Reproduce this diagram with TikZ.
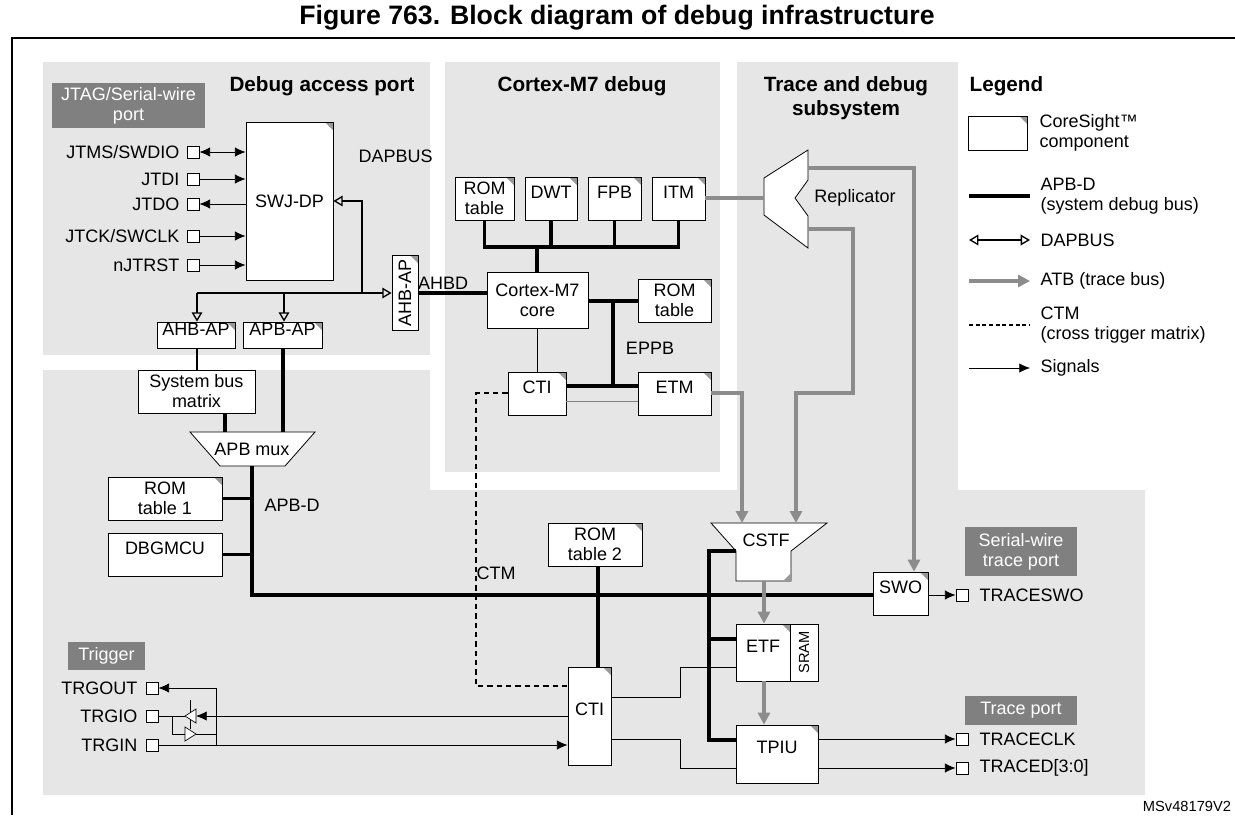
\documentclass[tikz,border=0pt]{standalone}
\usepackage{fontspec}
\setmainfont{Liberation Sans}
\usetikzlibrary{arrows.meta,fit}
\definecolor{bg}{HTML}{E6E6E6}
\definecolor{labgray}{HTML}{808080}
\definecolor{atbgray}{HTML}{8C8C8C}
\definecolor{cgray}{HTML}{999999}
\begin{document}
\begin{tikzpicture}[x=0.75pt,y=-0.75pt,font=\fontsize{13.5}{15}\selectfont,
 comp/.style={draw,fill=white,inner sep=0,align=center,line width=0.6pt,
   path picture={\fill[cgray] (path picture bounding box.north east) -- ++(-6pt,0) -- ++(6pt,-6pt) -- cycle;}},
 plainbox/.style={draw,fill=white,inner sep=0,align=center,line width=0.6pt},
 lab/.style={fill=labgray,text=white,inner sep=0,align=center},
 pinsq/.style={draw,fill=white,minimum size=9pt,inner sep=0,line width=0.6pt},
 bus/.style={line width=2.4pt},
 atb/.style={draw=atbgray,line width=2.4pt,-{Triangle[length=9pt,width=9pt]}},
 sig/.style={line width=0.6pt,-{Latex[length=8pt,width=7pt]}},
 dap/.style={line width=1pt,-{Triangle[open,length=7pt,width=8pt]}},
 ctm/.style={line width=2pt,dash pattern=on 4pt off 3pt},
 ttl/.style={font=\fontsize{15.5}{18}\selectfont\bfseries,align=center}]
\useasboundingbox (0,0) rectangle (1235,815);
\node[font=\fontsize{20}{22}\selectfont\bfseries] (title) at (617,18) {Figure 763. Block diagram of debug infrastructure};
\draw[line width=0.8pt] (12,815) -- (12,38) -- (1235,38);
% backgrounds
\fill[bg] (43,62) rectangle (430,355);
\fill[bg] (445,62) rectangle (720,472);
\fill[bg] (737,62) rectangle (958,490);
\fill[bg] (43,370) -- (430,370) -- (430,490) -- (1145,490) -- (1145,795) -- (43,795) -- cycle;
% titles
\node[ttl] (t1) at (322,86) {Debug access port};
\node[ttl] (t2) at (582,86) {Cortex-M7 debug};
\node[ttl] (t3) at (846,98) {Trace and debug\\subsystem};
\node[ttl,anchor=west] (t4) at (965,86) {Legend};
% gray labels
\node[lab,fit={(52,83)(205,128)}] (jtag) {};
\node[text=white,align=center] at (jtag) {JTAG/Serial-wire\\port};
\node[lab,fit={(68,642)(145,670)}] (trg) {};
\node[text=white] at (trg) {Trigger};
\node[lab,fit={(965,527)(1077,576)}] (swtp) {};
\node[text=white,align=center] at (swtp) {Serial-wire\\trace port};
\node[lab,fit={(965,696)(1077,725)}] (tp) {};
\node[text=white] at (tp) {Trace port};
% SWJ-DP and pins
\node[comp,fit={(246,122)(333,280)}] (swj) {};
\node at (swj) {SWJ-DP};
\foreach \n/\y/\t in {p1/152/{JTMS/SWDIO},p2/179/JTDI,p3/204/JTDO,p4/236/{JTCK/SWCLK},p5/265/nJTRST}{
  \node[pinsq] (\n) at (193,\y) {};
  \node[anchor=east] (\n l) at (184,\y) {\t};
}
\draw[line width=0.6pt,{Latex[length=8pt,width=7pt]}-{Latex[length=8pt,width=7pt]}] (p1.east) -- (p1.east -| swj.west);
\draw[sig] (p2.east) -- (p2.east -| swj.west);
\draw[sig] (p3.east -| swj.west) -- (p3.east);
\draw[sig] (p4.east) -- (p4.east -| swj.west);
\draw[sig] (p5.east) -- (p5.east -| swj.west);
% DAP
\node[comp,fit={(392,255)(418,330)}] (ahbv) {};
\node[rotate=90] at (ahbv) {AHB-AP};
\node[comp,fit={(157,322)(235,348)}] (ahb) {AHB-AP};
\node[comp,fit={(243,322)(322,348)}] (apb) {APB-AP};
\coordinate (dj) at (362,293);
\draw[dap] (dj) -- (362,201) -- (swj.east |- 0,201);
\draw[line width=1pt] (197,293) -- (dj);
\draw[dap] (dj) -- (ahbv.west |- dj);
\draw[dap] (197,293) -- (ahb.north -| 197,0);
\draw[dap] (284,293) -- (apb.north -| 284,0);
\node[anchor=west] (dapl) at (354,156) {DAPBUS};
% system bus
\node[plainbox,fit={(138,370)(255,413)}] (sbm) {};
\node[align=center] at (sbm) {System bus\\matrix};
\draw[line width=1.6pt] (ahb.south -| 197,0) -- (sbm.north -| 197,0);
\fill[white] (190,432) -- (315,432) -- (285,466) -- (220,466) -- cycle;
\draw[line width=0.6pt] (190,432) -- (315,432) -- (285,466) -- (220,466) -- cycle;
\node (mux) at (252,449) {APB mux};
\draw[bus] (sbm.south -| 225,0) -- (225,432);
\draw[bus] (apb.south -| 283,0) -- (283,432);
\node[comp,fit={(108,477)(222,520)}] (rom1) {};
\node[align=center] at (rom1) {ROM\\table 1};
\node[plainbox,fit={(108,533)(222,576)}] (dbg) {DBGMCU};
\draw[bus] (252,466) -- (252,595) -- (873,595);
\draw[bus] (rom1.east) -- (252,498.5);
\draw[bus] (dbg.east) -- (252,554.5);
\node[anchor=west] (apbdl) at (260,505) {APB-D};
% Cortex-M7
\node[comp,fit={(455,177)(514,220)}] (romt) {};
\node[align=center] at (romt) {ROM\\table};
\node[comp,fit={(525,177)(577,220)}] (dwt) {DWT};
\node[comp,fit={(588,177)(641,220)}] (fpb) {FPB};
\node[comp,fit={(652,177)(705,220)}] (itm) {ITM};
\node[plainbox,fit={(487,272)(588,328)}] (core) {};
\node[align=center] at (core) {Cortex-M7\\core};
\draw[bus] (romt.south) -- (484.5,247) -- (678.5,247) -- (itm.south);
\draw[bus] (dwt.south) -- (551,247);
\draw[bus] (fpb.south) -- (614.5,247);
\draw[bus] (537,247) -- (537,272);
\draw[bus] (418,293) -- (core.west |- 0,293);
\node (ahbdl) at (443,283) {AHBD};
\node[comp,fit={(638,279)(711,322)}] (romr) {};
\node[align=center] at (romr) {ROM\\table};
\node[comp,fit={(508,372)(566,415)}] (cti1) {CTI};
\node[comp,fit={(638,372)(711,415)}] (etm) {ETM};
\draw[bus] (core.east |- 0,301) -- (romr.west |- 0,301);
\draw[bus] (613,301) -- (613,386);
\draw[bus] (cti1.east |- 0,386) -- (etm.west |- 0,386);
\draw[line width=0.6pt,draw=gray] (cti1.east |- 0,401) -- (etm.west |- 0,401);
\draw[line width=0.6pt] (core.south -| 537,0) -- (cti1.north -| 537,0);
\node (eppb) at (650,348) {EPPB};
% Replicator
\draw[fill=white,line width=0.6pt] (764,178) -- (808,150) -- (808,180) -- (795,198) -- (808,216) -- (808,248) -- (764,215) -- cycle;
\coordinate (repl) at (764,198);
\node (repll) at (855,198) {Replicator};
\draw[draw=atbgray,line width=2.4pt] (itm.east |- 0,198) -- (repl);
% CSTF
\fill[white] (711,523) -- (827,523) -- (791,551) -- (791,581) -- (736,581) -- (736,551) -- cycle;
\draw[line width=0.6pt] (711,523) -- (827,523) -- (791,551) -- (791,581) -- (736,581) -- (736,551) -- cycle;
\fill[cgray] (791,573) -- (791,581) -- (783,581) -- cycle;
\node (cstf) at (766,540) {CSTF};
\coordinate (cstfb) at (764,581);
% SWO ETF TPIU
\node[comp,fit={(873,572)(928,615)}] (swo) {SWO};
\node[comp,fit={(736,624)(790,681)}] (etf) {ETF};
\node[plainbox,fit={(790,624)(818,681)}] (sram) {};
\node[rotate=90,font=\fontsize{11}{12}\selectfont] at (sram) {SRAM};
\node[comp,fit={(736,725)(818,783)}] (tpiu) {TPIU};
\draw[atb] (808,168) -- (914,168) -- (swo.north -| 914,0);
\draw[atb] (808,229) -- (853,229) -- (853,393) -- (796,393) -- (796,523);
\draw[atb] (etm.east |- 0,393) -- (742,393) -- (742,523);
\draw[atb] (cstfb) -- (etf.north -| 764,0);
\draw[atb] (etf.south -| 764,0) -- (tpiu.north -| 764,0);
\draw[bus] (736,551) -- (709,551) -- (709,740) -- (tpiu.west |- 0,740);
\draw[bus] (709,639) -- (etf.west |- 0,639);
% output pins
\node[pinsq] (ps) at (962,595) {};
\node[anchor=west] (psl) at (975,595) {TRACESWO};
\node[pinsq] (pc) at (962,739) {};
\node[anchor=west] (pcl) at (975,739) {TRACECLK};
\node[pinsq] (pd) at (962,768) {};
\node[anchor=west] (pdl) at (975,768) {TRACED[3:0]};
\draw[sig] (swo.east |- ps) -- (ps.west);
\draw[sig] (tpiu.east |- pc) -- (pc.west);
\draw[sig] (tpiu.east |- pd) -- (pd.west);
% ROM table 2 and CTI
\node[comp,fit={(548,523)(642,566)}] (rom2) {};
\node[align=center] at (rom2) {ROM\\table 2};
\node[comp,fit={(568,667)(611,765)}] (cti2) {CTI};
\draw[bus] (rom2.south -| 598,0) -- (cti2.north -| 598,0);
\draw[ctm] (cti1.west |- 0,393) -- (476,393) -- (476,686) -- (cti2.west |- 0,686);
\node (ctml) at (496,573) {CTM};
\draw[line width=0.6pt] (cti2.east |- 0,697) -- (680,697) -- (680,667) -- (etf.west |- 0,667);
\draw[line width=0.6pt] (cti2.east |- 0,739) -- (680,739) -- (680,768) -- (tpiu.west |- 0,768);
% trigger pins
\node[pinsq] (tout) at (152,688) {};
\node[anchor=east] (toutl) at (142,688) {TRGOUT};
\node[pinsq] (tio) at (152,716) {};
\node[anchor=east] (tiol) at (142,716) {TRGIO};
\node[pinsq] (tin) at (152,745) {};
\node[anchor=east] (tinl) at (142,745) {TRGIN};
\draw[sig] (tin.east) -- (cti2.west |- tin);
\draw[sig] (216,745) -- (216,688) -- (tout.east);
\draw[line width=0.6pt] (tio.east) -- (185,716);
\draw[line width=0.6pt] (172,716) -- (172,734) -- (185,734);
\draw[line width=0.6pt] (196,734) -- (216,734);
\draw[line width=0.6pt] (190,700) -- (190,729);
\draw[fill=white,line width=0.5pt] (185,716) -- (196,709) -- (196,723) -- cycle;
\draw[fill=white,line width=0.5pt] (185,727) -- (185,741) -- (196,734) -- cycle;
\draw[sig] (cti2.west |- tio) -- (196,716);
% legend
\node[comp,fit={(968,116)(1027,150)}] (lgc) {};
\node[anchor=west,align=left] (lgct) at (1035,133) {CoreSight™\\component};
\coordinate (l1a) at (969,196); \coordinate (l1b) at (1030,196);
\draw[bus] (l1a) -- (l1b);
\node[anchor=west,align=left] (lg1) at (1036,196) {APB-D\\(system debug bus)};
\coordinate (l2a) at (969,240); \coordinate (l2b) at (1030,240);
\draw[line width=1pt,{Triangle[open,length=7pt,width=8pt]}-{Triangle[open,length=7pt,width=8pt]}] (l2a) -- (l2b);
\node[anchor=west] (lg2) at (1036,240) {DAPBUS};
\coordinate (l3a) at (969,281); \coordinate (l3b) at (1030,281);
\draw[atb] (l3a) -- (l3b);
\node[anchor=west] (lg3) at (1036,281) {ATB (trace bus)};
\coordinate (l4a) at (969,325); \coordinate (l4b) at (1030,325);
\draw[line width=1.6pt,dash pattern=on 3pt off 2pt] (l4a) -- (l4b);
\node[anchor=west,align=left] (lg4) at (1036,325) {CTM\\(cross trigger matrix)};
\coordinate (l5a) at (969,368); \coordinate (l5b) at (1030,368);
\draw[sig] (l5a) -- (l5b);
\node[anchor=west] (lg5) at (1036,368) {Signals};
\node[font=\fontsize{11}{12}\selectfont] (ms) at (1187,806) {MSv48179V2};
\end{tikzpicture}
\end{document}
